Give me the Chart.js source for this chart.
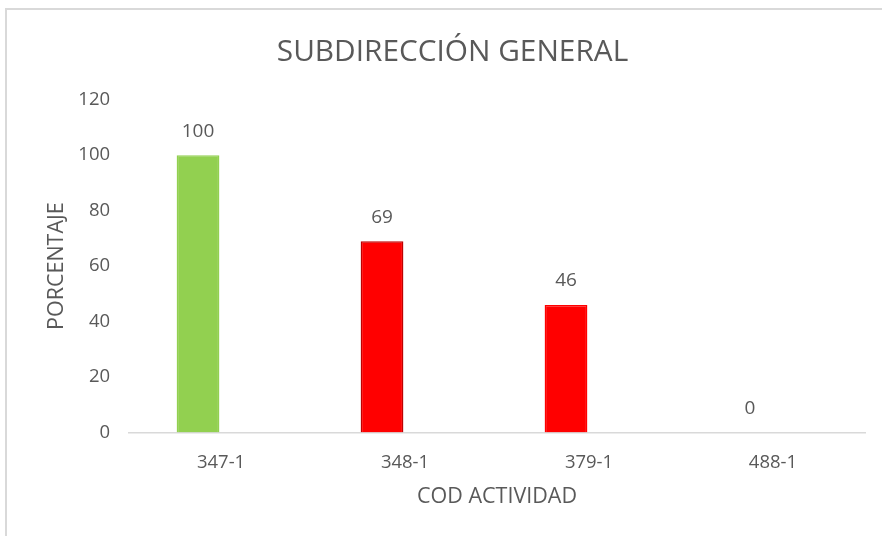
<!DOCTYPE html>
<html lang="es">

<head>
    <meta charset="UTF-8">
    <title>Subdirección General</title>
    <script src="https://cdn.jsdelivr.net/npm/chart.js@4.4.0/dist/chart.umd.min.js"></script>
    <style>
        body { margin: 0; background: #fff; }
        #frame {
            position: absolute; left: 5px; top: 8px; width: 900px; height: 560px;
            border-left: 2px solid #d9d9d9; border-top: 2px solid #d9d9d9;
        }
        #wrap { position: absolute; left: 0; top: 0; width: 882px; height: 536px; }
    </style>
</head>

<body>
    <div id="frame"></div>
    <div id="wrap"><canvas id="chart" width="882" height="536"></canvas></div>
    <script>
        const codes = ['347-1', '348-1', '379-1', '488-1'],
            porcentaje = [100, 69, 46, 0],
            barColors = ['#92d050', '#ff0000', '#ff0000', '#ff0000'],
            edgeColors = ['#92d050', '#c00000', '#ff0000', '#ff0000'],
            yTicks = [0, 20, 40, 60, 80, 100, 120];

        // values drawn above each bar, like Excel data labels
        const valueLabels = {
            id: 'valueLabels',
            afterDatasetsDraw(chart) {
                const ctx = chart.ctx,
                    meta = chart.getDatasetMeta(0);
                ctx.save();
                ctx.font = '19px "Open Sans"';
                ctx.fillStyle = '#595959';
                ctx.textAlign = 'center';
                ctx.textBaseline = 'middle';
                meta.data.forEach((bar, i) => {
                    ctx.fillText(String(porcentaje[i]), bar.x, bar.y - 24);
                });
                ctx.restore();
            }
        };

        new Chart(document.getElementById('chart'), {
            type: 'bar',
            data: {
                labels: codes,
                datasets: [{
                    data: porcentaje,
                    backgroundColor: barColors,
                    borderColor: edgeColors,
                    borderWidth: 1.5,
                    categoryPercentage: 0.5,
                    barPercentage: 0.93
                }, {
                    data: codes.map(() => null),
                    categoryPercentage: 0.5,
                    barPercentage: 0.93
                }]
            },
            options: {
                responsive: false,
                animation: false,
                layout: { padding: { top: 31, right: 17, bottom: 22, left: 40 } },
                plugins: {
                    legend: { display: false },
                    tooltip: { enabled: false },
                    title: {
                        display: true,
                        text: 'SUBDIRECCIÓN GENERAL',
                        color: '#595959',
                        font: { family: 'Open Sans', size: 29.8, weight: 'normal' },
                        padding: { top: 4, bottom: 29 }
                    }
                },
                scales: {
                    x: {
                        grid: { display: false, drawTicks: false },
                        border: { display: true, color: '#d9d9d9', width: 1.5 },
                        ticks: { color: '#595959', font: { family: 'Open Sans', size: 18.5 }, padding: 19 },
                        title: {
                            display: true, text: 'COD ACTIVIDAD', color: '#595959',
                            font: { family: 'Open Sans', size: 21.5 }, padding: { top: -8.5, bottom: 4 }
                        }
                    },
                    y: {
                        min: 0,
                        max: 120,
                        afterBuildTicks(axis) { axis.ticks = yTicks.map(v => ({ value: v })); },
                        grid: { display: false, drawTicks: false },
                        border: { display: false },
                        ticks: { color: '#595959', font: { family: 'Open Sans', size: 18.5 }, padding: 19 },
                        title: {
                            display: true, text: 'PORCENTAJE', color: '#595959',
                            font: { family: 'Open Sans', size: 21.5 }, padding: { top: 4, bottom: -10.5 }
                        }
                    }
                }
            },
            plugins: [valueLabels]
        });
    </script>
</body>

</html>
